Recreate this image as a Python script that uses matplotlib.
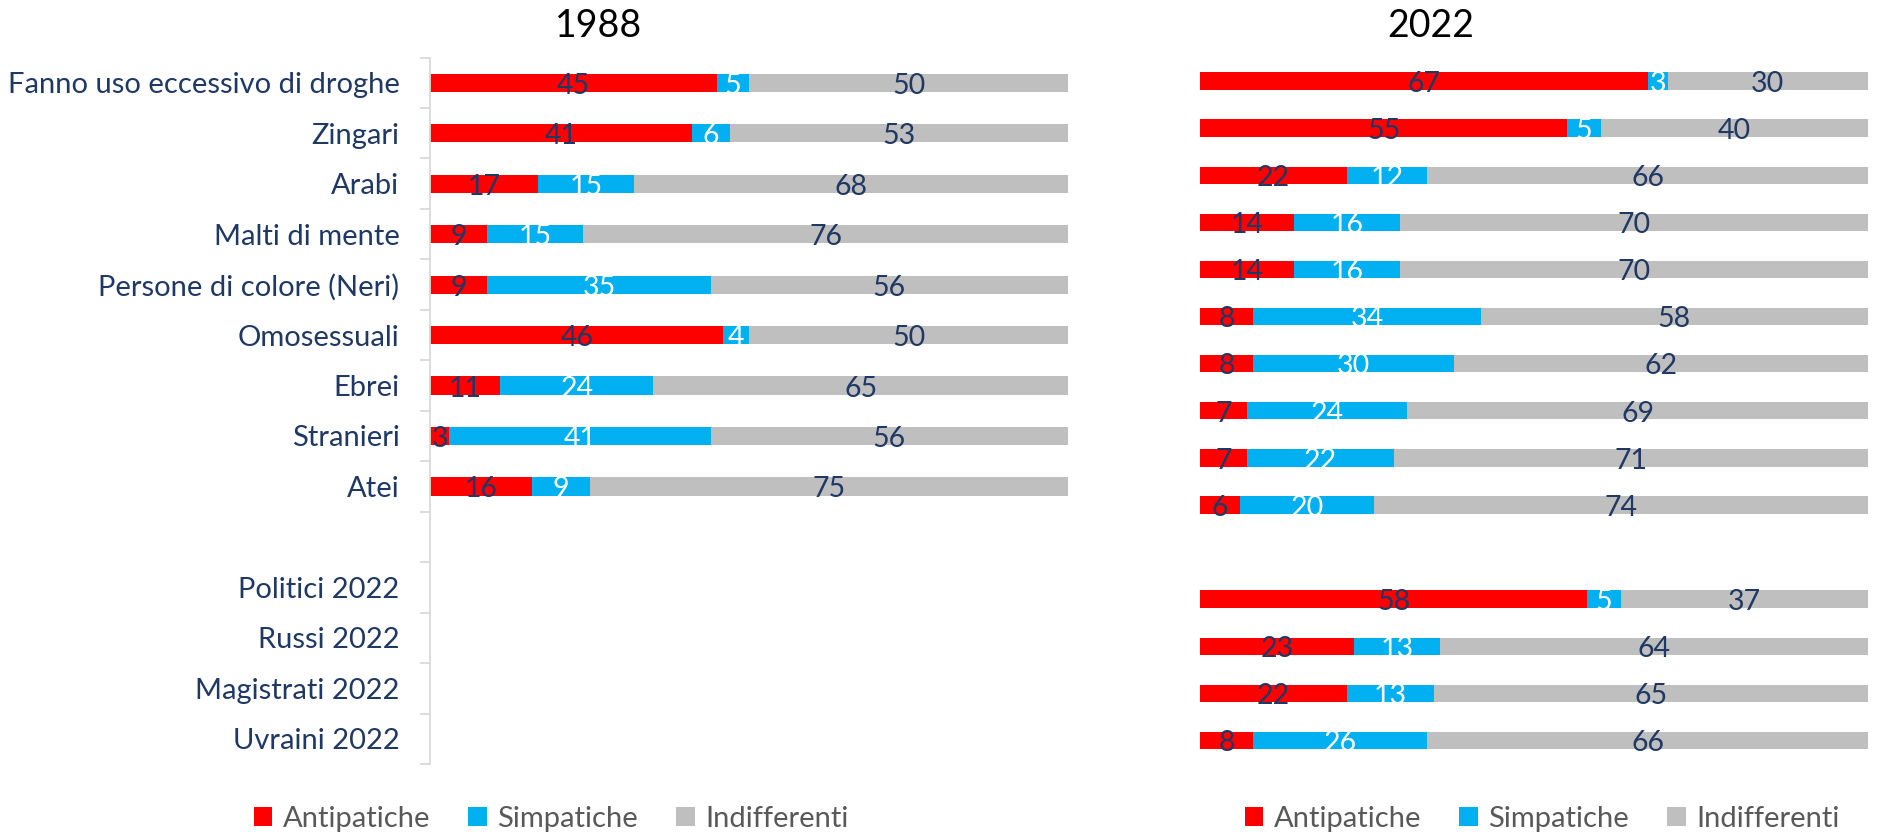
import matplotlib
matplotlib.use("Agg")
import matplotlib.pyplot as plt
from matplotlib.patches import Patch
import numpy as np

plt.rcParams['font.family'] = ['Lato', 'DejaVu Sans']

# ---------------- data ----------------
labels_left = ["Fanno uso eccessivo di droghe", "Zingari", "Arabi", "Malti di mente",
               "Persone di colore (Neri)", "Omosessuali", "Ebrei", "Stranieri", "Atei",
               "", "Politici 2022", "Russi 2022", "Magistrati 2022", "Uvraini 2022"]
anti_1988 = [45, 41, 17, 9, 9, 46, 11, 3, 16]
simp_1988 = [5, 6, 15, 15, 35, 4, 24, 41, 9]
indi_1988 = [50, 53, 68, 76, 56, 50, 65, 56, 75]

anti_2022 = [67, 55, 22, 14, 14, 8, 8, 7, 7, 6, None, 58, 23, 22, 8]
simp_2022 = [3, 5, 12, 16, 16, 34, 30, 24, 22, 20, None, 5, 13, 13, 26]
indi_2022 = [30, 40, 66, 70, 70, 58, 62, 69, 71, 74, None, 37, 64, 65, 66]

series_names = ["Antipatiche", "Simpatiche", "Indifferenti"]
titles = ["1988", "2022"]

# ---------------- style ----------------
RED = "#FF0000"
BLUE = "#00B0F0"
GRAY = "#BFBFBF"
NAVY = "#1F3864"
colors = [RED, BLUE, GRAY]
label_colors = [NAVY, "white", NAVY]

W, H = 1878, 835
fig = plt.figure(figsize=(W / 100, H / 100), dpi=100)

def fx(px):
    return px / W

def fy(py):
    return 1 - py / H

top, bottom = 57.5, 764
axL = fig.add_axes([fx(430), fy(bottom), fx(1068) - fx(430), fy(top) - fy(bottom)])
axR = fig.add_axes([fx(1200), fy(bottom), fx(1868) - fx(1200), fy(top) - fy(bottom)])


def draw(ax, anti, simp, indi, nslots, height):
    for i in range(len(anti)):
        a, s, d = anti[i], simp[i], indi[i]
        if a is None:
            continue
        left = 0
        for k, v in enumerate([a, s, d]):
            ax.barh(i, v, left=left, height=height, color=colors[k],
                    edgecolor="none", linewidth=0)
            ax.text(left + v / 2, i + 0.06, str(v), ha="center", va="center",
                    color=label_colors[k], fontsize=20.5)
            left += v
    ax.set_xlim(0, 100)
    ax.set_ylim(nslots - 0.5, -0.5)
    ax.set_xticks([])


draw(axL, anti_1988, simp_1988, indi_1988, len(labels_left), 0.36)
draw(axR, anti_2022, simp_2022, indi_2022, len(anti_2022), 0.37)

# left axis styling
for sp in ["top", "right", "bottom"]:
    axL.spines[sp].set_visible(False)
axL.spines["left"].set_color("#D9D9D9")
axL.spines["left"].set_linewidth(1.3)
axL.set_yticks(range(len(labels_left)))
axL.set_yticklabels(labels_left, fontsize=21, color=NAVY)
axL.tick_params(axis="y", which="major", length=0, pad=22)
axL.set_yticks(np.arange(-0.5, len(labels_left), 1.0), minor=True)
axL.tick_params(axis="y", which="minor", length=7, width=1.3, color="#D9D9D9")

for sp in axR.spines.values():
    sp.set_visible(False)
axR.set_yticks([])

# titles
fig.text(fx(599), fy(26), titles[0], ha="center", va="center", fontsize=27, color="black")
fig.text(fx(1431), fy(26), titles[1], ha="center", va="center", fontsize=27, color="black")

# legends
handles = [Patch(facecolor=c, edgecolor="none") for c in colors]
for cx in [551, 1542]:
    leg = fig.legend(handles, series_names, loc="center",
                     bbox_to_anchor=(fx(cx), fy(819)), ncol=3, frameon=False,
                     fontsize=21, handlelength=0.65, handleheight=0.65,
                     handletextpad=0.35, columnspacing=1.3, borderaxespad=0)
    for t in leg.get_texts():
        t.set_color("#595959")

fig.savefig("out.png", dpi=100)
